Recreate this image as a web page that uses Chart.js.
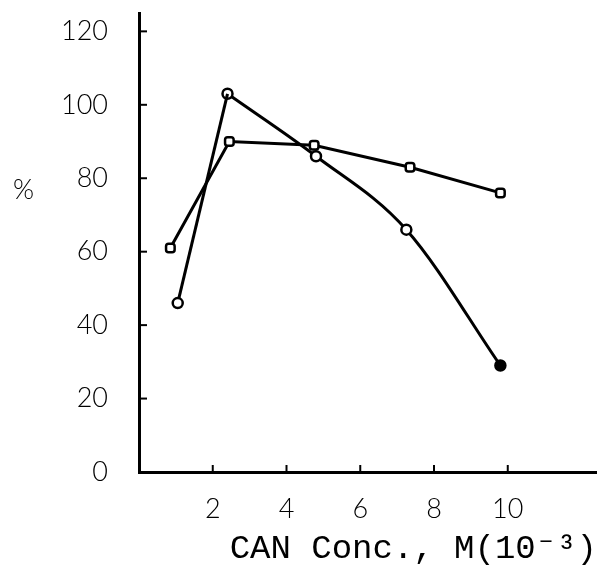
<!DOCTYPE html>
<html>
<head>
<meta charset="utf-8">
<script src="https://cdn.jsdelivr.net/npm/chart.js@4/dist/chart.umd.min.js"></script>
<style>
  html, body { margin: 0; padding: 0; background: #fff; }
  #wrap { position: relative; width: 597px; height: 577px; }
  #pct { position: absolute; left: 13px; top: 172px; font: 300 27px Lato, "Open Sans", sans-serif; color: #000; }
</style>
</head>
<body>
<div id="wrap">
  <canvas id="c" width="597" height="577"></canvas>
  <div id="pct">%</div>
</div>
<script>
// Series A (circles, curved decline)
const xA = [1.05, 2.4, 4.8, 7.25, 9.8];
const yA = [46, 103, 86, 66, 29];
// Series B (squares, flatter)
const xB = [0.85, 2.45, 4.75, 7.35, 9.8];
const yB = [61, 90, 89, 83, 76];
// Tick labels
const xTickValues = [2, 4, 6, 8, 10];
const yTickValues = [0, 20, 40, 60, 80, 100, 120];
const xTitle = 'CAN Conc., M(10\u207B\u00B3)';

const pts = (xs, ys) => xs.map((x, i) => ({ x: x, y: ys[i] }));
const ptsA = pts(xA, yA);
const ptsB = pts(xB, yB);

const tickFont = { family: 'Lato, "Open Sans", sans-serif', size: 27, weight: 300 };

const inwardTicks = {
  id: 'inwardTicks',
  afterDraw(chart) {
    const ctx = chart.ctx;
    const xs = chart.scales.x, ys = chart.scales.y;
    const area = chart.chartArea;
    ctx.save();
    ctx.strokeStyle = '#000';
    ctx.lineWidth = 2;
    yTickValues.forEach(v => {
      if (v === 0) return;
      const py = ys.getPixelForValue(v);
      ctx.beginPath();
      ctx.moveTo(area.left, py);
      ctx.lineTo(area.left + 8, py);
      ctx.stroke();
    });
    xTickValues.forEach(v => {
      const px = xs.getPixelForValue(v);
      ctx.beginPath();
      ctx.moveTo(px, area.bottom);
      ctx.lineTo(px, area.bottom - 7);
      ctx.stroke();
    });
    ctx.restore();
  }
};

const zeroPad = s => { s.paddingTop = 0; s.paddingBottom = 0; s.paddingLeft = 0; s.paddingRight = 0; };

new Chart(document.getElementById('c'), {
  type: 'scatter',
  data: {
    datasets: [
      {
        label: 'A rise',
        data: ptsA.slice(0, 2),
        showLine: true,
        borderColor: '#000',
        borderWidth: 3,
        tension: 0,
        pointRadius: [5, 0],
        pointStyle: 'circle',
        pointBackgroundColor: '#fff',
        pointBorderColor: '#000',
        pointBorderWidth: 2.5
      },
      {
        label: 'A',
        data: ptsA.slice(1),
        showLine: true,
        borderColor: '#000',
        borderWidth: 3,
        cubicInterpolationMode: 'monotone',
        pointRadius: 5,
        pointStyle: 'circle',
        pointBackgroundColor: ['#fff', '#fff', '#fff', '#000'],
        pointBorderColor: '#000',
        pointBorderWidth: 2.5
      },
      {
        label: 'B',
        data: ptsB,
        showLine: true,
        borderColor: '#000',
        borderWidth: 3,
        tension: 0,
        pointRadius: 5,
        pointStyle: 'rectRounded',
        pointBackgroundColor: '#fff',
        pointBorderColor: '#000',
        pointBorderWidth: 2.5
      }
    ]
  },
  options: {
    responsive: false,
    animation: false,
    layout: { autoPadding: false, padding: { top: 13, right: 0, left: 0, bottom: 0 } },
    plugins: { legend: { display: false }, tooltip: { enabled: false } },
    scales: {
      x: {
        type: 'linear',
        min: 0,
        max: 12.42,
        grid: { display: false, drawTicks: false },
        border: { display: true, color: '#000', width: 3 },
        afterBuildTicks: s => { s.ticks = xTickValues.map(v => ({ value: v })); },
        afterFit: s => { s.height = 105; zeroPad(s); },
        ticks: { color: '#000', font: tickFont, padding: 21, maxRotation: 0, autoSkip: false },
        title: {
          display: true,
          text: xTitle,
          align: 'end',
          color: '#000',
          font: { family: '"Liberation Mono", "DejaVu Sans Mono", monospace', size: 34 },
          padding: { top: 0, bottom: 8 }
        }
      },
      y: {
        type: 'linear',
        min: 0,
        max: 125,
        grid: { display: false, drawTicks: false },
        border: { display: true, color: '#000', width: 3 },
        afterBuildTicks: s => { s.ticks = yTickValues.map(v => ({ value: v })); },
        afterFit: s => { s.width = 139; zeroPad(s); },
        ticks: { color: '#000', font: tickFont, padding: 31, autoSkip: false }
      }
    }
  },
  plugins: [inwardTicks]
});
</script>
</body>
</html>
